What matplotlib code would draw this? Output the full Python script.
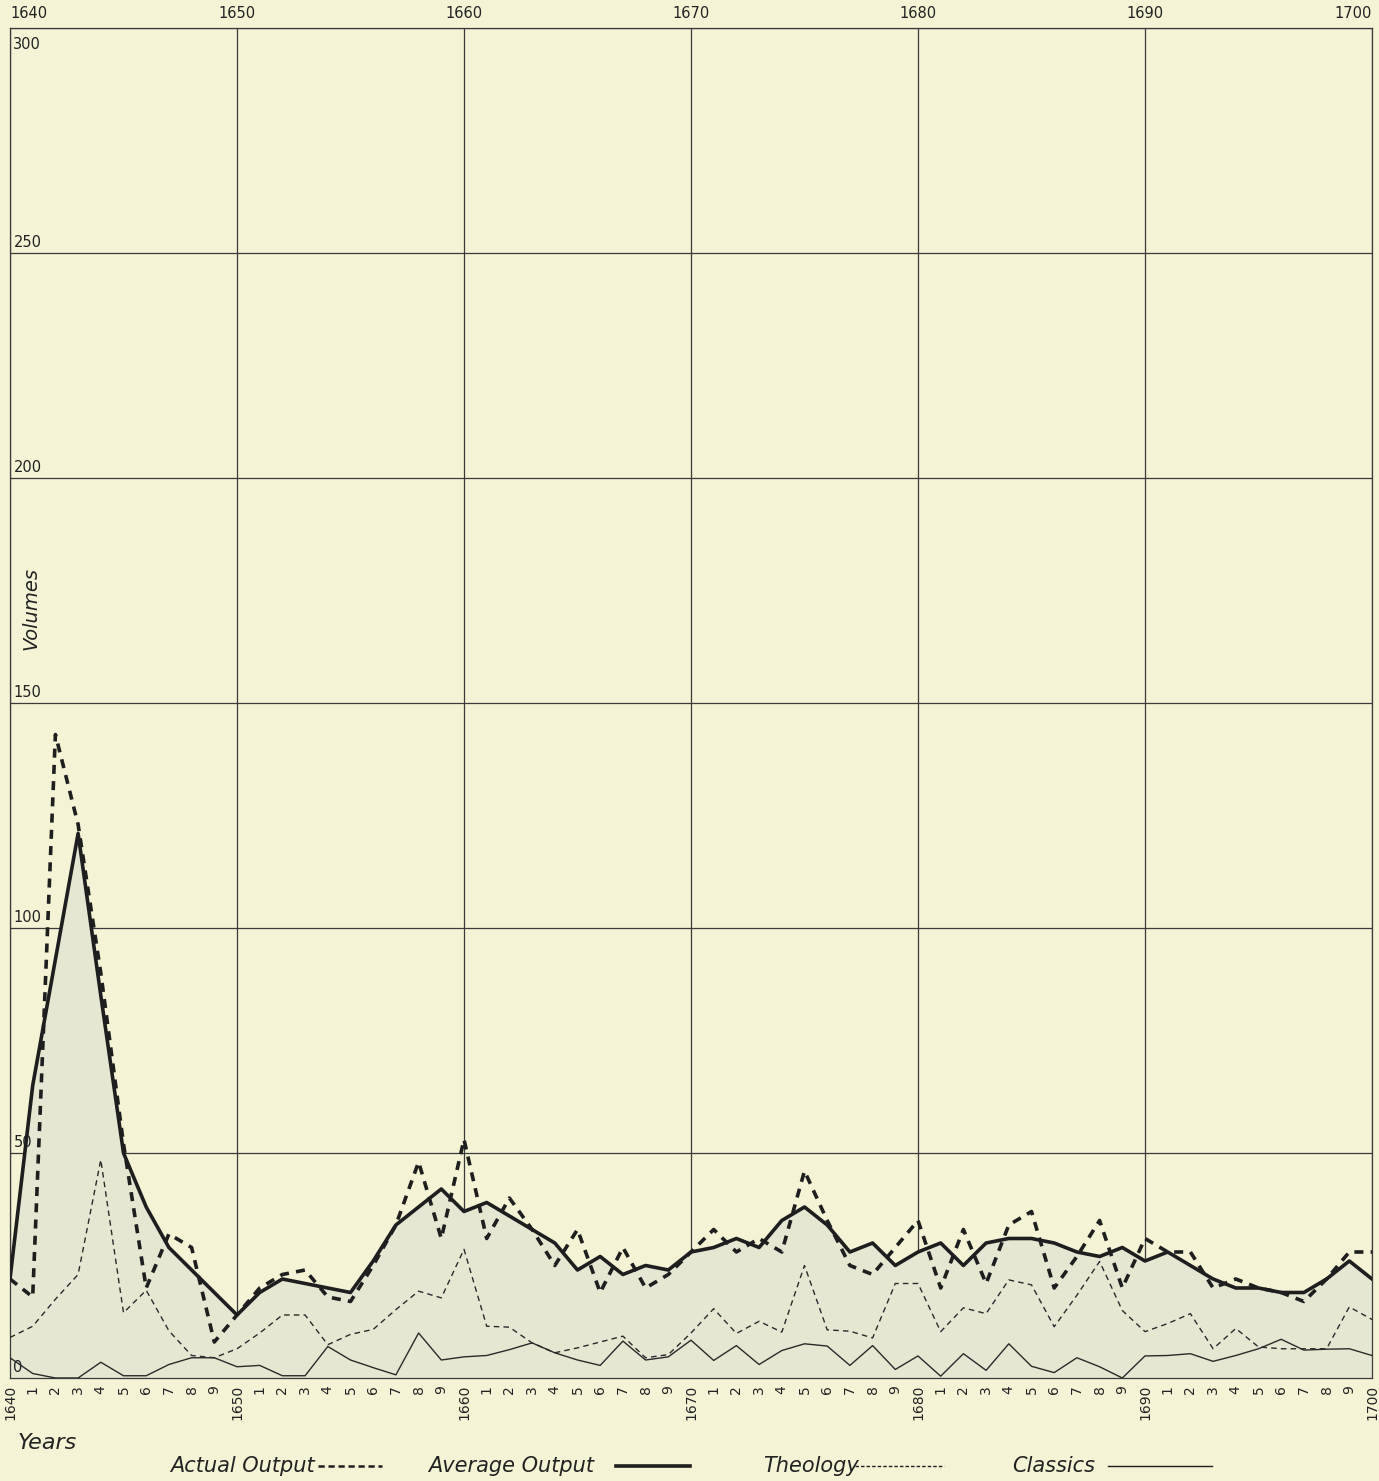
import matplotlib.pyplot as plt
from matplotlib.lines import Line2D

years = list(range(1640, 1701))

# Actual Output (heavy dashed)
actual = [22, 18, 143, 123, 90, 52, 20, 32, 29, 8,
          14, 20, 23, 24, 18, 17, 25, 34, 48, 31,
          53, 31, 40, 33, 25, 33, 19, 29, 20, 23,
          28, 33, 28, 31, 28, 46, 35, 25, 23, 29,
          35, 20, 33, 21, 34, 37, 20, 27, 35, 20,
          31, 28, 28, 20, 22, 20, 19, 17, 22, 28,
          28]

# Average Output (heavy solid)
average = [22, 65, 93, 121, 85, 50, 38, 29, 24, 19,
           14, 19, 22, 21, 20, 19, 26, 34, 38, 42,
           37, 39, 36, 33, 30, 24, 27, 23, 25, 24,
           28, 29, 31, 29, 35, 38, 34, 28, 30, 25,
           28, 30, 25, 30, 31, 31, 30, 28, 27, 29,
           26, 28, 25, 22, 20, 20, 19, 19, 22, 26,
           22]

# Theology (thin dashed)
theology = [9, 11.5, 17.5, 23, 48.5, 14.5, 19.5, 10.5, 5, 4.5,
            6.5, 10, 14, 14, 7.4, 9.7, 10.8, 15.2, 19.3, 17.8,
            28.6, 11.5, 11.3, 7.8, 5.6, 6.7, 8, 9.3, 4.5, 5.2,
            10, 15.4, 9.9, 12.6, 10.2, 25, 10.7, 10.4, 8.9, 21,
            21, 10.3, 15.6, 14.3, 21.8, 20.7, 11.4, 18.4, 25.9, 15,
            10.3, 12.1, 14.3, 6.5, 11, 6.9, 6.5, 6.5, 6.5, 15.8,
            13]

# Classics (thin solid)
classics = [4.5, 1, 0, 0, 3.5, 0.5, 0.5, 3, 4.5, 4.5,
            2.5, 2.8, 0.5, 0.5, 7, 4, 2.3, 0.7, 10, 4,
            4.7, 5, 6.3, 7.8, 5.6, 4, 2.8, 8.2, 4, 4.7,
            8.4, 3.9, 7.2, 3, 6.1, 7.6, 7.1, 2.8, 7.2, 1.9,
            4.9, 0.4, 5.4, 1.7, 7.6, 2.6, 1.2, 4.5, 2.5, 0,
            4.9, 5, 5.4, 3.7, 5, 6.5, 8.6, 6.2, 6.4, 6.5,
            5]

decades = [1640, 1650, 1660, 1670, 1680, 1690, 1700]
y_levels = [0, 50, 100, 150, 200, 250, 300]

bg = '#f4f3d6'
ink = '#1e1e1e'

fig = plt.figure(figsize=(13.79, 14.81), dpi=100, facecolor=bg)
ax = fig.add_axes([10 / 1379, 1 - 1378 / 1481, 1362 / 1379, 1350 / 1481])
ax.set_facecolor(bg)

ax.set_xlim(1640, 1700)
ax.set_ylim(0, 300)

# grid
for d in decades:
    ax.axvline(d, color='#3a3a3a', lw=0.9, zorder=1)
for v in y_levels:
    ax.axhline(v, color='#3a3a3a', lw=0.9, zorder=1)

ax.fill_between(years, average, 0, color='#e6e7d3', zorder=2)

ax.plot(years, classics, color='#2a2a2a', lw=1.0, zorder=3)
ax.plot(years, theology, color='#2a2a2a', lw=1.0, ls=(0, (4, 3)), zorder=3)
ax.plot(years, average, color=ink, lw=2.6, zorder=4)
ax.plot(years, actual, color=ink, lw=2.6, ls=(0, (2.5, 2)), zorder=4)

for s in ax.spines.values():
    s.set_color('#3a3a3a')
    s.set_linewidth(0.9)
ax.set_xticks([])
ax.set_yticks([])

# y labels inside the plot
for v in y_levels:
    if v == 300:
        ax.text(1640.15, v - 2, str(v), fontsize=10.5, va='top', ha='left', color='#222')
    else:
        ax.text(1640.15, v + 0.6, str(v), fontsize=10.5, va='bottom', ha='left', color='#222')

# top decade labels
for d in decades:
    ha = 'left' if d == 1640 else ('right' if d == 1700 else 'center')
    ax.text(d, 301.5, str(d), fontsize=10.5, ha=ha, va='bottom', color='#222')

# bottom year labels
for y in years:
    lab = str(y) if y % 10 == 0 else str(y % 10)
    ax.text(y, -1.5, lab, fontsize=10, rotation=90, ha='center', va='top', color='#222')

ax.text(1640.5, 171, 'Volumes', rotation=90, fontsize=14, style='italic',
        ha='left', va='center', color='#222')

fig.text(18 / 1379, 1 - 1443 / 1481, 'Years', fontsize=16, style='italic',
         ha='left', va='center', color='#222')

# legend row
ly = 1 - 1466 / 1481
items = [
    ('Actual Output', 170, 318, 382, (0, (2.5, 1.5)), 1.8),
    ('Average Output', 428, 616, 690, '-', 2.6),
    ('Theology', 763, 855, 944, (0, (2.5, 1.5)), 1.0),
    ('Classics', 1012, 1108, 1212, '-', 1.0),
]
for name, tx, x0, x1, style, lw in items:
    fig.text(tx / 1379, ly, name, fontsize=15, style='italic',
             ha='left', va='center', color='#222')
    fig.add_artist(Line2D([x0 / 1379, x1 / 1379], [ly, ly], color=ink, lw=lw, ls=style))

fig.savefig('out.png', dpi=100, facecolor=bg)
